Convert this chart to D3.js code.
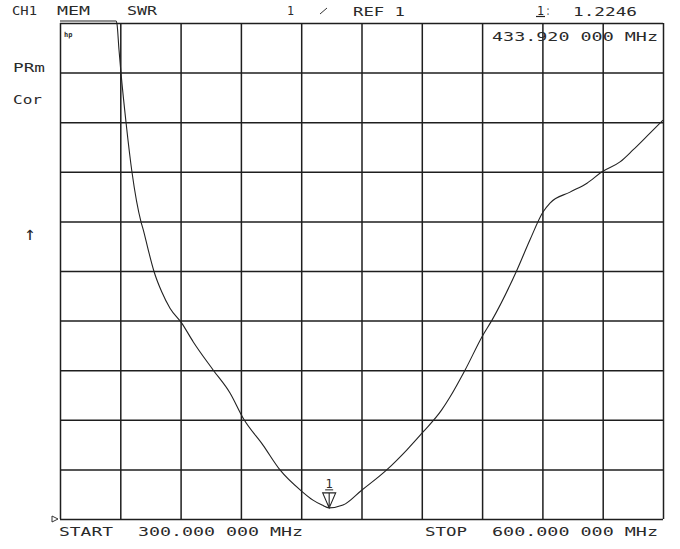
<!DOCTYPE html>
<html>
<head>
<meta charset="utf-8">
<script src="https://cdn.jsdelivr.net/npm/d3@7"></script>
<style>
  html, body { margin: 0; padding: 0; background: #fff; }
  svg { display: block; }
  text { font-family: "DejaVu Sans Mono", monospace; fill: #2a2a2a; }
</style>
</head>
<body>
<svg id="chart" width="680" height="549"></svg>
<script>
// ---- data ----
const freqMHz = [300, 327.86, 328.36, 329.35, 330.35, 332.84, 335.82, 340.30, 341.44, 343.93, 346.77,
  350.60, 354.73, 360.55, 366.32, 376.27, 384.58, 391.29, 400.99, 409.45, 420.25, 425.87,
  430.35, 433.92, 440.80, 450.10, 462.54, 472.49, 480.75, 489.90, 494.03, 501.49, 510.45, 514.93,
  527.36, 533.83, 540.30, 543.78, 553.73, 562.19, 569.65, 578.61, 585.07, 593.53, 600];
const swr = [11.04, 11.04, 10.98, 10.46, 9.99, 9.00, 7.99, 6.99, 6.83, 6.42, 5.99,
  5.58, 5.25, 4.95, 4.57, 4.00, 3.54, 3.02, 2.49, 1.99, 1.56, 1.38,
  1.28, 1.2246, 1.28, 1.58, 1.99, 2.39, 2.76, 3.20, 3.46, 4.00, 4.71, 5.01,
  6.02, 6.63, 7.19, 7.37, 7.59, 7.77, 8.00, 8.20, 8.44, 8.78, 9.04];
const xTicks = [300, 330, 360, 390, 420, 450, 480, 510, 540, 570, 600];
const yTicks = [1, 2, 3, 4, 5, 6, 7, 8, 9, 10, 11];
const markerFreq = 433.92;
const markerSWR = 1.2246;
const headerLabels = ["CH1", "MEM", "SWR", "1", "REF 1"];
const markerReadout = ["1.2246", "433.920 000 MHz"];
const sideLabels = ["PRm", "Cor"];
const footerLabels = ["START", "300.000 000 MHz", "STOP", "600.000 000 MHz"];

// ---- drawing ----
const svg = d3.select("#chart");
const pLeft = 60, pRight = 663, pTop = 23, pBottom = 519;
const x = d3.scaleLinear().domain([300, 600]).range([pLeft, pRight]);
const y = d3.scaleLinear().domain([1, 11]).range([pBottom, pTop]);

// grid via axes
const gx = svg.append("g").attr("transform", `translate(0,${pBottom})`)
  .call(d3.axisBottom(x).tickValues(xTicks).tickSize(-(pBottom - pTop)).tickFormat(""));
const gy = svg.append("g").attr("transform", `translate(${pLeft},0)`)
  .call(d3.axisLeft(y).tickValues(yTicks).tickSize(-(pRight - pLeft)).tickFormat(""));
[gx, gy].forEach(g => {
  g.select(".domain").remove();
  g.selectAll(".tick line").attr("stroke", "#1e1e1e").attr("stroke-width", 1.5);
});

// trace
const line = d3.line().x((d, i) => x(freqMHz[i])).y(d => y(d)).curve(d3.curveMonotoneX);
svg.append("path").datum(swr).attr("d", line)
  .attr("fill", "none").attr("stroke", "#222").attr("stroke-width", 1.1).attr("stroke-linejoin", "round");

// marker
const mx = x(markerFreq), my = y(markerSWR);
svg.append("path")
  .attr("d", `M${mx - 6.5},${my - 15} L${mx + 6.5},${my - 15} L${mx},${my} Z M${mx},${my - 15} L${mx},${my - 2}`)
  .attr("fill", "none").attr("stroke", "#222").attr("stroke-width", 1.1);
svg.append("text").attr("x", mx).attr("y", my - 20).attr("text-anchor", "middle")
  .attr("font-size", 12).text("1");
svg.append("line").attr("x1", mx - 4).attr("x2", mx + 4).attr("y1", my - 18).attr("y2", my - 18)
  .attr("stroke", "#222").attr("stroke-width", 1);

// reference level arrow at left
svg.append("path")
  .attr("d", `M52,${y(1) - 3} L58,${y(1)} L52,${y(1) + 3} Z`)
  .attr("fill", "none").attr("stroke", "#333").attr("stroke-width", 1);

// texts helper
function txt(s, x0, x1, yb, size) {
  const t = svg.append("text").attr("x", x0).attr("y", yb).attr("font-size", size || 12.5).text(s);
  if (x1) t.attr("textLength", x1 - x0).attr("lengthAdjust", "spacingAndGlyphs");
  return t;
}
txt(headerLabels[0], 12, 37, 15);
txt(headerLabels[1], 57, 90, 15);
txt(headerLabels[2], 127, 157, 15);
txt(headerLabels[3], 287, 294, 15);
svg.append("line").attr("x1", 320).attr("y1", 14).attr("x2", 327).attr("y2", 8)
  .attr("stroke", "#333").attr("stroke-width", 1);
txt(headerLabels[4], 353, 405, 16);

// marker readout
txt("1", 537, 544, 15);
svg.append("line").attr("x1", 536).attr("x2", 545).attr("y1", 16.5).attr("y2", 16.5)
  .attr("stroke", "#222").attr("stroke-width", 1.2);
txt(":", 546, 550, 15);
txt(markerReadout[0], 573, 637, 16);
txt(markerReadout[1], 492, 658, 41);

// side annotations
txt(sideLabels[0], 13, 45, 72);
txt(sideLabels[1], 13, 42, 104);
svg.append("text").attr("x", 30).attr("y", 240).attr("text-anchor", "middle").attr("font-size", 19)
  .attr("font-family", "DejaVu Sans").attr("font-weight", 200).text("↑");
svg.append("text").attr("x", 64).attr("y", 37).attr("font-size", 7).attr("font-weight", "bold")
  .attr("font-family", "DejaVu Sans").text("hp");

// footer
txt(footerLabels[0], 59, 113, 536);
txt(footerLabels[1], 138, 303, 536);
txt(footerLabels[2], 425, 467, 536);
txt(footerLabels[3], 492, 658, 536);
</script>
</body>
</html>
